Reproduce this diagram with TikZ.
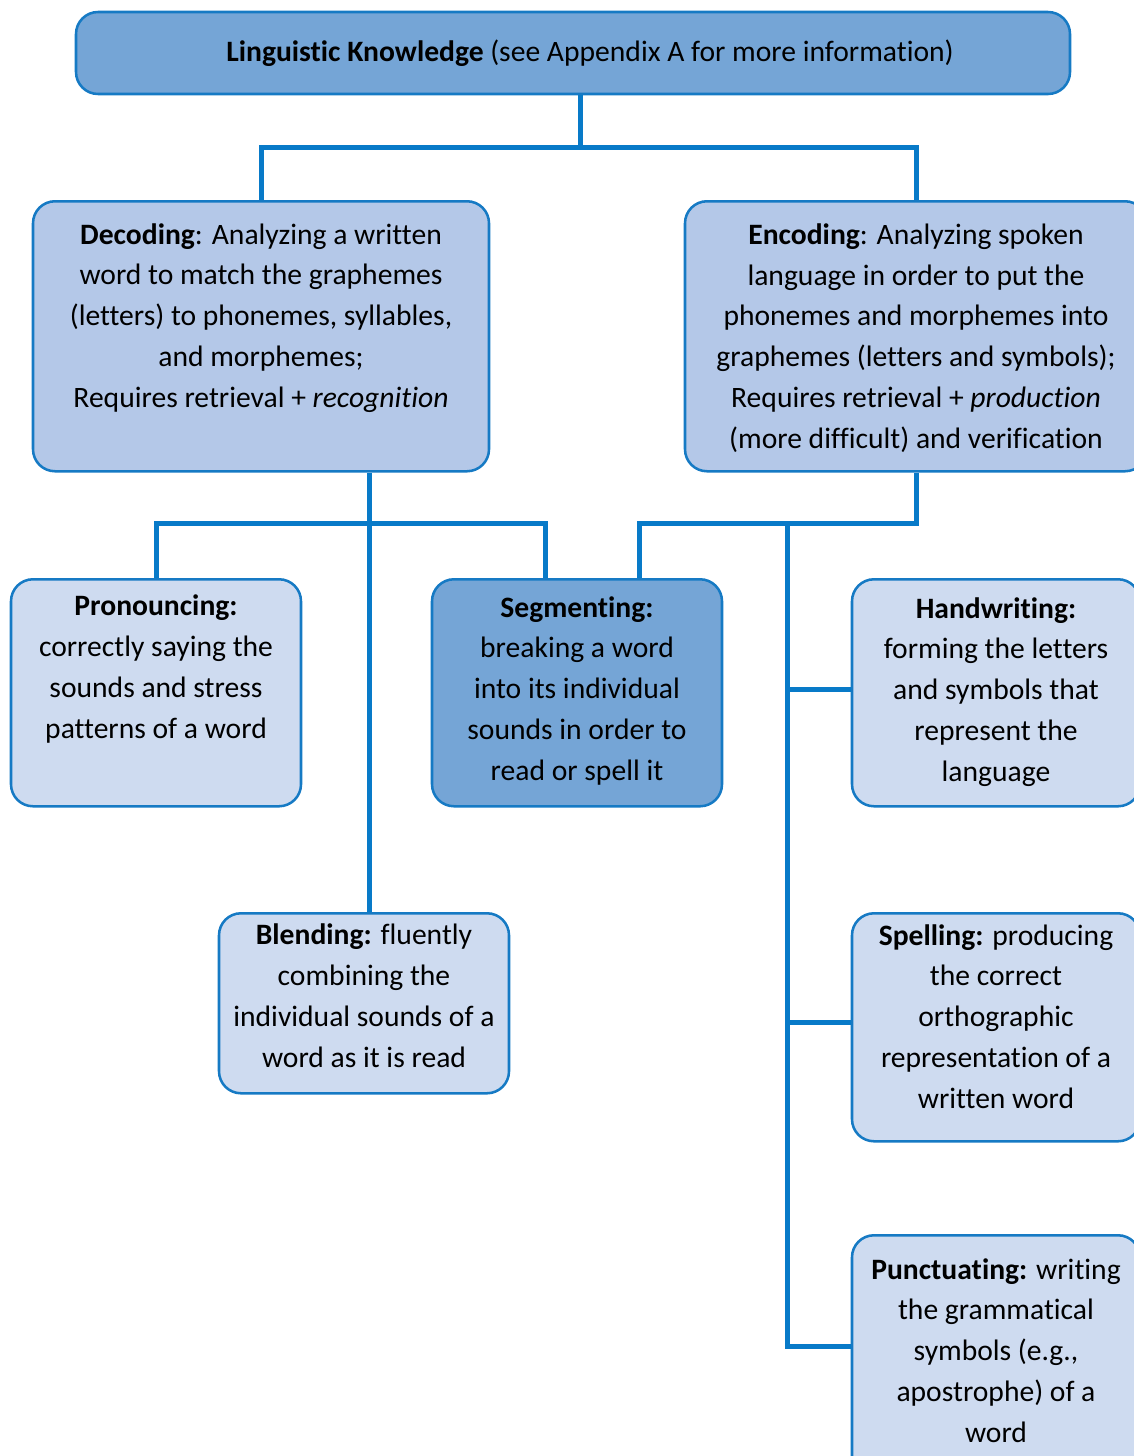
\documentclass[tikz,border=0pt]{standalone}
\usepackage{fontspec}
\setmainfont{Carlito}[Ligatures={NoCommon}]
\usetikzlibrary{calc}

\definecolor{edgeblue}{RGB}{22,122,196}
\definecolor{linkblue}{RGB}{8,122,200}
\definecolor{midfill}{RGB}{117,165,214}
\definecolor{softfill}{RGB}{180,200,232}
\definecolor{palefill}{RGB}{206,219,240}

\tikzset{every picture/.style={line width=0.75pt}}
\tikzset{
  card/.style={draw=edgeblue, line width=1.9pt, rounded corners=16.5pt, align=center,
    anchor=north, inner xsep=0pt, inner ysep=0pt, font=\fontsize{22.2}{30.6}\selectfont},
  link/.style={draw=linkblue, line width=3.75pt},
}

\begin{document}
\begin{tikzpicture}[x=0.75pt,y=0.75pt,yscale=-1,xscale=1]
\useasboundingbox (0,0) rectangle (1134,1456);

%Shape: Rounded Rect [id:know]
\node[card, fill=midfill, anchor=center, minimum width=745.5pt, minimum height=61.5pt] (know) at (573,53) {\hspace{25.5pt}\textbf{Linguistic Knowledge} (see Appendix A for more information)};

%Shape: Rounded Rect [id:dec]
\node[card, fill=softfill, minimum width=342pt, text height=154.5pt, text depth=48pt] (dec) at (261,200) {\textbf{Decoding}: Analyzing a written\\word to match the graphemes\\(letters) to phonemes, syllables,\\and morphemes;\\Requires retrieval + \textit{recognition}};
%Shape: Rounded Rect [id:enc]
\node[card, fill=softfill, minimum width=346.5pt, text height=185.25pt, text depth=17.25pt] (enc) at (916,200) {\textbf{Encoding}: Analyzing spoken\\language in order to put the\\phonemes and morphemes into\\graphemes (letters and symbols);\\Requires retrieval + \textit{production}\\(more difficult) and verification};

%Shape: Rounded Rect [id:pron]
\node[card, fill=palefill, minimum width=217.5pt, text height=119.25pt, text depth=51pt] (pron) at (156,578) {\textbf{Pronouncing:}\\correctly saying the\\sounds and stress\\patterns of a word};
%Shape: Rounded Rect [id:seg]
\node[card, fill=midfill, minimum width=217.5pt, text height=150.75pt, text depth=19.5pt] (seg) at (577,578) {\textbf{Segmenting:}\\breaking a word\\into its individual\\sounds in order to\\read or spell it};
%Shape: Rounded Rect [id:hand]
\node[card, fill=palefill, minimum width=216pt, text height=151.5pt, text depth=18.75pt] (hand) at (996,578) {\textbf{Handwriting:}\\forming the letters\\and symbols that\\represent the\\language};

%Shape: Rounded Rect [id:blend]
\node[card, fill=palefill, minimum width=217.5pt, text height=115.5pt, text depth=19.5pt] (blend) at (364,912) {\textbf{Blending:} fluently\\combining the\\individual sounds of a\\word as it is read};
%Shape: Rounded Rect [id:spell]
\node[card, fill=palefill, minimum width=216pt, text height=146.25pt, text depth=24.75pt] (spell) at (996,912) {\textbf{Spelling:} producing\\the correct\\orthographic\\representation of a\\written word};
%Shape: Rounded Rect [id:punct]
\node[card, fill=palefill, minimum width=216pt, text height=155.25pt, text depth=29.25pt] (punct) at (996,1234) {\textbf{Punctuating:} writing\\the grammatical\\symbols (e.g.,\\apostrophe) of a\\word};

% Junctions
\coordinate (tj) at (580,147);
\coordinate (dj) at (369,523);
\coordinate (sp) at (787,523);

% Connectors
\draw[link] (know.south -| tj) -- (tj);
\draw[link] (dec.north) |- (tj) -| (enc.north);
\draw[link] (dec.south -| dj) -- (blend.north -| dj);
\draw[link] (pron.north) |- (dj) -| ([xshift=-24pt]seg.north);
\draw[link] (enc.south) |- (sp) -| ([xshift=46.5pt]seg.north);
\draw[link] (sp) |- ([yshift=-2.6pt]hand.west);
\draw[link] (sp) |- ([yshift=-3.75pt]spell.west);
\draw[link] (sp) |- ([yshift=-9pt]punct.west);

\end{tikzpicture}
\end{document}
